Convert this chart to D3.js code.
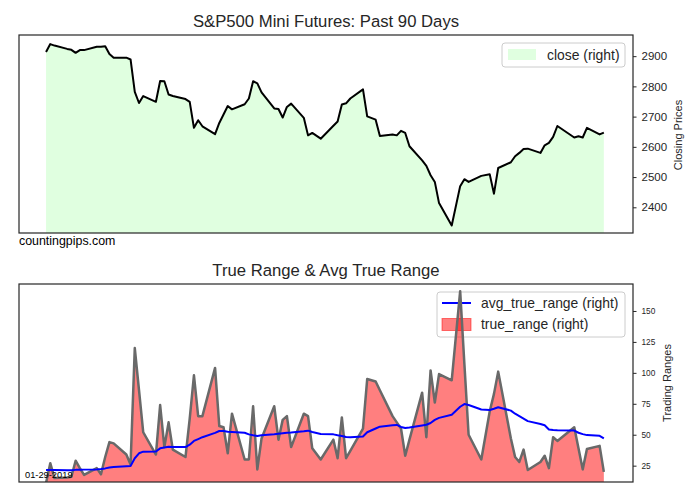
<!DOCTYPE html>
<html>
<head>
<meta charset="utf-8">
<script src="https://cdn.jsdelivr.net/npm/d3@7"></script>
<style>
    body { margin: 0; background: #fff; }
    text { font-family: "Liberation Sans", Arial, sans-serif; }
</style>
</head>
<body>
<div id="chart"></div>
<script>
// trading days shown in both panels
const dates = [
    "2018-09-19", "2018-09-20", "2018-09-21", "2018-09-24", "2018-09-25", "2018-09-26", "2018-09-27", "2018-09-28", "2018-10-01", "2018-10-02",
    "2018-10-03", "2018-10-04", "2018-10-05", "2018-10-08", "2018-10-09", "2018-10-10", "2018-10-11", "2018-10-12", "2018-10-15", "2018-10-16",
    "2018-10-17", "2018-10-18", "2018-10-19", "2018-10-22", "2018-10-23", "2018-10-24", "2018-10-25", "2018-10-26", "2018-10-29", "2018-10-30",
    "2018-10-31", "2018-11-01", "2018-11-02", "2018-11-05", "2018-11-06", "2018-11-07", "2018-11-08", "2018-11-09", "2018-11-12", "2018-11-13",
    "2018-11-14", "2018-11-15", "2018-11-16", "2018-11-19", "2018-11-20", "2018-11-21", "2018-11-23", "2018-11-26", "2018-11-27", "2018-11-28",
    "2018-11-29", "2018-11-30", "2018-12-03", "2018-12-04", "2018-12-06", "2018-12-07", "2018-12-10", "2018-12-11", "2018-12-12", "2018-12-13",
    "2018-12-14", "2018-12-17", "2018-12-18", "2018-12-19", "2018-12-20", "2018-12-21", "2018-12-24", "2018-12-26", "2018-12-27", "2018-12-28",
    "2018-12-31", "2019-01-02", "2019-01-03", "2019-01-04", "2019-01-07", "2019-01-08", "2019-01-09", "2019-01-10", "2019-01-11", "2019-01-14",
    "2019-01-15", "2019-01-16", "2019-01-17", "2019-01-18", "2019-01-22", "2019-01-23", "2019-01-24", "2019-01-25", "2019-01-28", "2019-01-29"
];

const closePrices = [
    2914, 2940, 2935, 2924, 2921, 2911, 2920, 2920, 2931, 2931,
    2933, 2907, 2895, 2895, 2889, 2782, 2745, 2768, 2749, 2818,
    2817, 2773, 2768, 2758, 2749, 2663, 2688, 2668, 2642, 2679,
    2707, 2735, 2724, 2741, 2760, 2817, 2810, 2780, 2727, 2725,
    2697, 2732, 2743, 2696, 2638, 2646, 2627, 2670, 2684, 2740,
    2744, 2760, 2790, 2701, 2690, 2636, 2641, 2638, 2653, 2646,
    2602, 2555, 2537, 2506, 2484, 2414, 2340, 2470, 2493, 2484,
    2504, 2509, 2445, 2530, 2549, 2569, 2580, 2593, 2594, 2580,
    2605, 2613, 2633, 2669, 2631, 2635, 2631, 2663, 2641, 2647
];

const trueRange = [
    11, 27, 15, 15.5, 16, 29, 23, 17.5, 23, 18,
    32, 44, 43, 34, 26, 120, 86, 52, 34, 74,
    40, 60, 38, 32, 63, 98, 65, 65, 104, 57,
    56, 35, 67, 30, 30, 73, 22, 47, 73, 46,
    62, 65, 40, 67, 65, 39, 30, 46, 31, 64,
    31, 37, 55, 95, 93, 86, 65, 60, 55, 33,
    46, 84, 48, 102, 76, 99, 94, 166, 107, 50,
    30, 69, 83, 101, 47, 32, 28, 38, 21.5, 28,
    33, 23, 48, 45, 56, 39, 22, 38.5, 41, 20
];

const avgTrueRange = [
    21.5, 21.5, 21.5, 21.3, 21.3, 21.6, 21.7, 21.8, 22, 22.3,
    22.8, 23.5, 24, 24.5, 24.7, 31, 35, 36.3, 36.5, 39,
    39.7, 40.3, 40, 40, 42, 45, 46.5, 48, 51.5, 53,
    53, 52.4, 52.3, 51.6, 50.3, 49.5, 49, 49.5, 50.4, 50.8,
    51.2, 51.6, 51.8, 52.8, 53.3, 52.2, 50.6, 50.3, 49.6, 49,
    48.2, 47.9, 48.6, 52, 55, 56.5, 57.6, 57.9, 56.3, 55.4,
    55.8, 57.5, 58.1, 59.5, 62, 63.6, 66.2, 72.6, 74.8, 74,
    70.4, 70, 71, 72.2, 69.5, 67, 65, 63, 61, 58.7,
    57.6, 54.3, 53.8, 53.6, 53.4, 51.6, 50.5, 49.7, 49.1, 47
];

const closeTicks = [2400, 2500, 2600, 2700, 2800, 2900];
const rangeTicks = [25, 50, 75, 100, 125, 150];
const closeDomain = [2315, 2970];
const rangeDomain = [11.8, 171.8];

const WIDTH = 700;
const HEIGHT = 500;
const LEFT = 19;
const RIGHT = 633;
const TOP_PANEL = { top: 35, bottom: 233 };
const BOTTOM_PANEL = { top: 284, bottom: 482 };
const DAY = 864e5;
const FRAME_COLOR = "#262626";

const parseDate = d3.utcParse("%Y-%m-%d");
const rows = dates.map((d, i) => ({
    date: parseDate(d),
    close: closePrices[i],
    tr: trueRange[i],
    atr: avgTrueRange[i]
}));

const firstDay = rows[0].date;
const lastDay = rows[rows.length - 1].date;

const xScale = d3.scaleUtc()
    .domain([new Date(firstDay.getTime() - 6.4 * DAY), new Date(lastDay.getTime() + 6.9 * DAY)])
    .range([LEFT, RIGHT]);

const yClose = d3.scaleLinear().domain(closeDomain).range([TOP_PANEL.bottom, TOP_PANEL.top]);
const yRange = d3.scaleLinear().domain(rangeDomain).range([BOTTOM_PANEL.bottom, BOTTOM_PANEL.top]);

const svg = d3.select("#chart")
    .append("svg")
    .attr("width", WIDTH)
    .attr("height", HEIGHT);

// clip paths for each panel
const defs = svg.append("defs");
[["clip-top", TOP_PANEL], ["clip-bottom", BOTTOM_PANEL]].forEach(([id, p]) => {
    defs.append("clipPath").attr("id", id)
        .append("rect")
        .attr("x", LEFT).attr("y", p.top)
        .attr("width", RIGHT - LEFT).attr("height", p.bottom - p.top);
});

// ---------- top panel: closing prices ----------
const topPlot = svg.append("g").attr("clip-path", "url(#clip-top)");

topPlot.append("path")
    .datum(rows)
    .attr("fill", "#e0ffe0")
    .attr("d", d3.area()
        .x(d => xScale(d.date))
        .y0(TOP_PANEL.bottom)
        .y1(d => yClose(d.close)));

topPlot.append("path")
    .datum(rows)
    .attr("fill", "none")
    .attr("stroke", "#000")
    .attr("stroke-width", 2)
    .attr("stroke-linejoin", "round")
    .attr("d", d3.line()
        .x(d => xScale(d.date))
        .y(d => yClose(d.close)));

svg.append("rect")
    .attr("x", LEFT).attr("y", TOP_PANEL.top)
    .attr("width", RIGHT - LEFT).attr("height", TOP_PANEL.bottom - TOP_PANEL.top)
    .attr("fill", "none")
    .attr("stroke", FRAME_COLOR)
    .attr("stroke-width", 1.2);

const closeAxis = svg.append("g")
    .attr("transform", `translate(${RIGHT},0)`)
    .call(d3.axisRight(yClose).tickValues(closeTicks).tickFormat(d3.format("d")).tickSize(3.5).tickPadding(5));
closeAxis.select(".domain").remove();
closeAxis.selectAll("line").attr("stroke", FRAME_COLOR);
closeAxis.selectAll("text")
    .attr("fill", "#262626")
    .style("font-family", "'Liberation Sans', Arial, sans-serif")
    .style("font-size", "11.5px");

svg.append("text")
    .attr("x", 326)
    .attr("y", 27)
    .attr("text-anchor", "middle")
    .style("font-size", "16.7px")
    .attr("fill", "#262626")
    .text("S&P500 Mini Futures: Past 90 Days");

svg.append("text")
    .attr("transform", "translate(682,135)rotate(-90)")
    .attr("text-anchor", "middle")
    .style("font-size", "11px")
    .attr("fill", "#262626")
    .text("Closing Prices");

svg.append("text")
    .attr("x", 19)
    .attr("y", 245)
    .style("font-size", "12.4px")
    .attr("fill", "#000")
    .text("countingpips.com");

// legend (top)
const topLegend = svg.append("g");
topLegend.append("rect")
    .attr("x", 502).attr("y", 43).attr("width", 123).attr("height", 24)
    .attr("rx", 3)
    .attr("fill", "#fff").attr("fill-opacity", 0.8)
    .attr("stroke", "#cccccc");
topLegend.append("rect")
    .attr("x", 508).attr("y", 49).attr("width", 28).attr("height", 11)
    .attr("fill", "#e0ffe0");
topLegend.append("text")
    .attr("x", 547).attr("y", 59.5)
    .style("font-size", "13.9px")
    .attr("fill", "#262626")
    .text("close (right)");

// ---------- bottom panel: true range ----------
// legend sits under the plotted series here (they draw over it)
const bottomLegend = svg.append("g");
bottomLegend.append("rect")
    .attr("x", 437).attr("y", 292).attr("width", 188).attr("height", 45)
    .attr("rx", 3)
    .attr("fill", "#fff").attr("fill-opacity", 0.8)
    .attr("stroke", "#cccccc");
bottomLegend.append("line")
    .attr("x1", 442).attr("x2", 471).attr("y1", 303).attr("y2", 303)
    .attr("stroke", "#0000ff").attr("stroke-width", 2);
bottomLegend.append("text")
    .attr("x", 481).attr("y", 308)
    .style("font-size", "13.9px")
    .attr("fill", "#262626")
    .text("avg_true_range (right)");
bottomLegend.append("rect")
    .attr("x", 442).attr("y", 318.5).attr("width", 29).attr("height", 12)
    .attr("fill", "#ff0000").attr("fill-opacity", 0.5)
    .attr("stroke", "#ff0000").attr("stroke-opacity", 0.5);
bottomLegend.append("text")
    .attr("x", 481).attr("y", 329)
    .style("font-size", "13.9px")
    .attr("fill", "#262626")
    .text("true_range (right)");

const bottomPlot = svg.append("g").attr("clip-path", "url(#clip-bottom)");

bottomPlot.append("path")
    .datum(rows)
    .attr("fill", "#ff0000")
    .attr("fill-opacity", 0.5)
    .attr("d", d3.area()
        .x(d => xScale(d.date))
        .y0(BOTTOM_PANEL.bottom + 5)
        .y1(d => yRange(d.tr)));

bottomPlot.append("path")
    .datum(rows)
    .attr("fill", "none")
    .attr("stroke", "#696969")
    .attr("stroke-width", 2.5)
    .attr("stroke-linejoin", "round")
    .attr("d", d3.line()
        .x(d => xScale(d.date))
        .y(d => yRange(d.tr)));

bottomPlot.append("path")
    .datum(rows)
    .attr("fill", "none")
    .attr("stroke", "#0000ff")
    .attr("stroke-width", 2)
    .attr("stroke-linejoin", "round")
    .attr("d", d3.line()
        .x(d => xScale(d.date))
        .y(d => yRange(d.atr)));

svg.append("rect")
    .attr("x", LEFT).attr("y", BOTTOM_PANEL.top)
    .attr("width", RIGHT - LEFT).attr("height", BOTTOM_PANEL.bottom - BOTTOM_PANEL.top)
    .attr("fill", "none")
    .attr("stroke", FRAME_COLOR)
    .attr("stroke-width", 1.2);

const rangeAxis = svg.append("g")
    .attr("transform", `translate(${RIGHT},0)`)
    .call(d3.axisRight(yRange).tickValues(rangeTicks).tickSize(3.5).tickPadding(5));
rangeAxis.select(".domain").remove();
rangeAxis.selectAll("line").attr("stroke", FRAME_COLOR);
rangeAxis.selectAll("text")
    .attr("fill", "#262626")
    .style("font-family", "'Liberation Sans', Arial, sans-serif")
    .style("font-size", "8.3px");

svg.append("text")
    .attr("x", 326)
    .attr("y", 276)
    .attr("text-anchor", "middle")
    .style("font-size", "16.7px")
    .attr("fill", "#262626")
    .text("True Range & Avg True Range");

svg.append("text")
    .attr("transform", "translate(671,383)rotate(-90)")
    .attr("text-anchor", "middle")
    .style("font-size", "11px")
    .attr("fill", "#262626")
    .text("Trading Ranges");

svg.append("text")
    .attr("x", 25)
    .attr("y", 478)
    .style("font-size", "9.3px")
    .attr("fill", "#000")
    .text("01-29-2019");
</script>
</body>
</html>
